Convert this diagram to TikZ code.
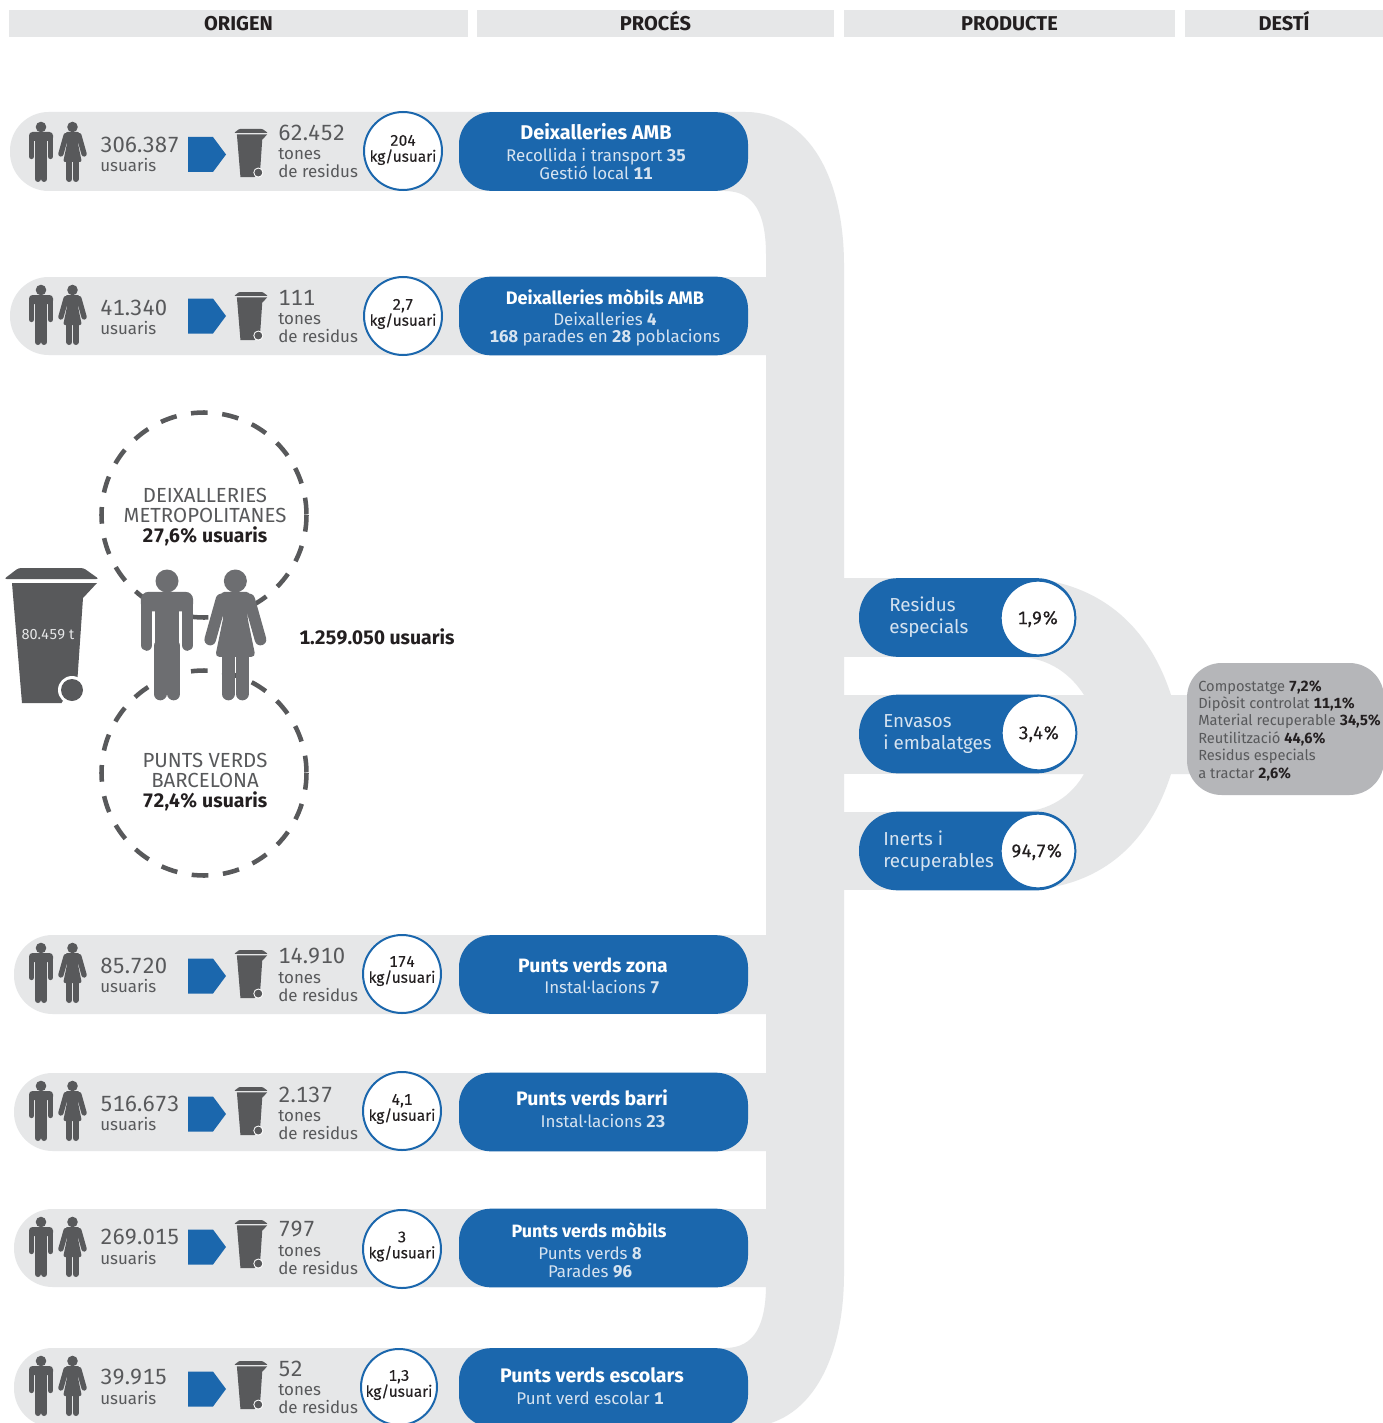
\documentclass[tikz,border=0pt]{standalone}
\usepackage{fontspec}
\setmainfont[Numbers={Lining,Monospaced}]{Fira Sans}
\newfontfamily\medf[FakeBold=0.25,Numbers={Lining,Monospaced}]{Fira Sans}
\definecolor{bandc}{HTML}{E6E7E8}
\definecolor{bluec}{HTML}{1B67AD}
\definecolor{darkc}{HTML}{58595B}
\definecolor{midc}{HTML}{6D6E71}
\definecolor{boxc}{HTML}{B5B6B9}
\definecolor{inkc}{HTML}{231F20}
\definecolor{softc}{HTML}{D6E3F0}
\newcommand{\fsz}[2]{\fontsize{#1pt}{#2pt}\selectfont}
\newcommand{\personicon}[4]{%
 \begin{scope}[shift={(#1,#2)},scale=#3,fill=#4,draw=#4,line cap=round]
  \fill (0,0) circle[radius=5.3];
  \fill[rounded corners={#3*2.6pt}] (-12,5) rectangle (12,14);
  \fill (-5.6,5) rectangle (5.6,34);
  \draw[line width={#3*4pt}] (-9.4,10) -- (-9.4,29.5);
  \draw[line width={#3*4pt}] (9.4,10) -- (9.4,29.5);
  \draw[line width={#3*4.5pt}] (-3.2,30) -- (-3.2,52);
  \draw[line width={#3*4.5pt}] (3.2,30) -- (3.2,52);
  \begin{scope}[shift={(31.5,0)}]
  \fill (0,0) circle[radius=5.3];
  \fill[rounded corners={#3*1.5pt}] (-7,5) -- (7,5) -- (5.4,16) -- (9.3,35) -- (-9.3,35) -- (-5.4,16) -- cycle;
  \draw[line width={#3*4.0pt}] (-6.4,8.5) -- (-11.6,27);
  \draw[line width={#3*4.0pt}] (6.4,8.5) -- (11.6,27);
  \draw[line width={#3*4.5pt}] (-3.2,33) -- (-3.2,52);
  \draw[line width={#3*4.5pt}] (3.2,33) -- (3.2,52);
  \end{scope}
 \end{scope}}
\newcommand{\binicon}[3]{%
 \begin{scope}[shift={(#1,#2)},scale=#3]
  \fill[darkc,rounded corners={#3*2pt}] (-47.5,11) -- (-33,0) -- (32,0) -- (47.5,11) -- cycle;
  \fill[darkc] (-39.5,15) -- (45.5,15) -- (31.5,30) -- (26,110) -- (10,135) -- (-29.5,135) -- cycle;
  \fill[white] (20.5,122) circle[radius=14];
  \fill[darkc] (20.5,122) circle[radius=11];
 \end{scope}}
\tikzset{
 x=0.75pt,y=-0.75pt,
 hdr/.style={fill=bandc,inner sep=0,minimum height=20.25pt,text height=10.5pt,text depth=0pt,text=inkc,font=\bfseries\fsz{15}{15}},
 pill/.style={fill=bluec,rounded corners=24pt,inner sep=0,minimum height=59pt,minimum width=216.75pt},
 ring/.style={circle,fill=white,draw=bluec,line width=1.5pt,inner sep=0},
 ttl/.style={inner sep=0,text=white,font=\bfseries\fsz{#1}{15}},
 subt/.style={inner sep=0,text=softc,align=center,font=\fsz{12.7}{13}},
 bigt/.style={inner sep=0,anchor=west,text=darkc,font=\fsz{16.5}{16}},
 smallt/.style={inner sep=0,anchor=west,text=darkc,align=left,font=\fsz{12.7}{13.5}},
 kgt/.style={inner sep=0,align=center,text=inkc,font=\medf\fsz{11.5}{12}},
 prodt/.style={inner sep=0,anchor=west,align=left,text=softc,font=\fsz{14.1}{16.5}},
 pctt/.style={inner sep=0,text=inkc,font=\medf\fsz{13.6}{14}},
 dashc/.style={draw=darkc,line width=3.4pt,dash pattern=on 12.5pt off 11pt},
 capt/.style={inner sep=0,align=center,text=darkc,font=\fsz{15.3}{15}},
}
\begin{document}
\begin{tikzpicture}
\clip (0,0) rectangle (1383,1423);
\fill[white] (0,0) rectangle (1383,1423);
% header bars
\node[hdr,minimum width=344.25pt] (hOrigen) at (238.5,24) {ORIGEN};
\node[hdr,minimum width=267.75pt] (hProces) at (655.5,24) {PROCÉS};
\node[hdr,minimum width=248.25pt] (hProducte) at (1009.5,24) {PRODUCTE};
\node[hdr,minimum width=148.5pt] (hDesti) at (1284,24) {DESTÍ};
% main spine
\fill[bandc] (745,112) .. controls (810,112) and (844,180) .. (844,265) -- (844,1274)
  .. controls (844,1359) and (810,1427) .. (745,1427) -- (725,1348)
  .. controls (755,1348) and (766,1324) .. (766,1284) -- (766,255)
  .. controls (766,215) and (755,191) .. (725,191) -- cycle;
% product flows
\fill[bandc] (840,578) rectangle (1010,657);
\fill[bandc] (840,695) rectangle (1010,774);
\fill[bandc] (840,812) rectangle (1010,890);
\fill[bandc] (1000,578) -- (1030,578) .. controls (1105,585) and (1150,630) .. (1171,695)
  -- (1190,695) -- (1190,774) -- (1171,774) .. controls (1150,840) and (1105,885) .. (1030,890)
  -- (1000,890) -- (1000,812) -- (1017,812) .. controls (1050,812) and (1072,795) .. (1084,774)
  -- (1000,774) -- (1000,695) -- (1084,695) .. controls (1072,676) and (1050,657) .. (1017,657)
  -- (1000,657) -- cycle;
% rows
\foreach \rid/\rL/\rT/\rB/\rR/\hy/\ny/\uy/\biny/\ay/\ty/\ly/\cxx/\cyy/\crad/\ky/\numv/\tonv/\kgv in {
 a/10/112/191/784/127/144/165/129/154.5/132/162/403/151/39/149/{306.387}/{62.452}/{204},
 b/10/277/355/820/290/307/328/292/316/297/327/403/316/39/313/{41.340}/{111}/{2,7},
 c/14/935/1014/820/948/965/986/950/976/956/986/402/974/39/970/{85.720}/{14.910}/{174},
 d/14/1073/1151/820/1086/1103/1124/1087/1114/1094/1124/402/1111/39/1108/{516.673}/{2.137}/{4,1},
 e/14/1209/1287/820/1222/1237/1258/1220/1247/1229/1259/402/1249/39/1245.5/{269.015}/{797}/{3},
 f/14/1348/1427/784/1361/1377/1398/1361/1389/1368/1398/399/1387/38/1384/{39.915}/{52}/{1,3}}{
 \fill[bandc,rounded corners=29pt] (\rL,\rT) rectangle (\rR,\rB);
 \personicon{41}{\hy}{1}{darkc}
 \node[bigt] (num\rid) at (100,\ny+0.5) {\numv};
 \node[smallt] (usr\rid) at (100,\uy) {usuaris};
 \fill[bluec] (188,\ay-17.5) -- (213,\ay-17.5) -- (226,\ay) -- (213,\ay+17.5) -- (188,\ay+17.5) -- cycle;
 \binicon{251}{\biny}{0.357}
 \node[bigt] (ton\rid) at (278,\ty+0.5) {\tonv};
 \node[smallt] (res\rid) at (278,\ly+1.5) {tones\\de residus};
 \node[ring,minimum size={(2*\crad)*0.75pt}] (circ\rid) at (\cxx,\cyy) {};
 \node[kgt] (kg\rid) at (\cxx,\ky+1) {\kgv\\kg/usuari};
}
% process pills
\node[pill] (p1) at (603.5,151.5) {};
\node[pill] (p2) at (603.5,316) {};
\node[pill] (p3) at (603.5,974.5) {};
\node[pill] (p4) at (603.5,1112) {};
\node[pill] (p5) at (603.5,1248) {};
\node[pill] (p6) at (603.5,1387.5) {};
\node[ttl=14.9] (t1) at (596,132) {Deixalleries AMB};
\node[subt] (s1) at (596,164) {Recollida i transport \textbf{35}\\Gestió local \textbf{11}};
\node[ttl=13.6] (t2) at (605,297) {Deixalleries mòbils AMB};
\node[subt] (s2) at (605,329) {Deixalleries \textbf{4}\\\textbf{168} parades en \textbf{28} poblacions};
\node[ttl=14.5] (t3) at (593,965) {Punts verds zona};
\node[subt] (s3) at (602,987) {Instal·lacions \textbf{7}};
\node[ttl=14.6] (t4) at (592,1098) {Punts verds barri};
\node[subt] (s4) at (603,1121) {Instal·lacions \textbf{23}};
\node[ttl=13.4] (t5) at (589,1230) {Punts verds mòbils};
\node[subt] (s5) at (590,1262.5) {Punts verds \textbf{8}\\Parades \textbf{96}};
\node[ttl=14.7] (t6) at (592,1375) {Punts verds escolars};
\node[subt] (s6) at (590,1398) {Punt verd escolar \textbf{1}};
% product pills
\node[pill,minimum width=162.75pt,rounded corners=29pt] (q1) at (967.5,617.5) {};
\node[pill,minimum width=162.75pt,rounded corners=29pt] (q2) at (967.5,734) {};
\node[pill,minimum width=162.75pt,rounded corners=29pt] (q3) at (967.5,851) {};
\node[ring,minimum size=56pt] (r1) at (1038,618) {};
\node[ring,minimum size=56pt] (r2) at (1039,733) {};
\node[ring,minimum size=56pt] (r3) at (1038,851) {};
\node[pctt] (v1) at (1038,619) {1,9\%};
\node[pctt] (v2) at (1039,734) {3,4\%};
\node[pctt] (v3) at (1037,852) {94,7\%};
\node[prodt] (n1) at (889,617) {Residus\\especials};
\node[prodt] (n2) at (883,734) {Envasos\\i embalatges};
\node[prodt] (n3) at (883,851) {Inerts i\\recuperables};
% destination box
\fill[boxc,rounded corners=26pt] (1187,663) rectangle (1384,795);
\node[inner sep=0,anchor=west,align=left,text=darkc,font=\fsz{11}{13.05}] (desti) at (1198,730.5)
 {Compostatge \textcolor{inkc}{\textbf{7,2\%}}\\Dipòsit controlat \textcolor{inkc}{\textbf{11,1\%}}\\Material recuperable \textcolor{inkc}{\textbf{34,5\%}}\\Reutilització \textcolor{inkc}{\textbf{44,6\%}}\\Residus especials\\a tractar \textcolor{inkc}{\textbf{2,6\%}}};
% dashed circles
\draw[dashc] (204,515) circle[radius=102.5];
\draw[dashc] (204,773) circle[radius=102.5];
\node[capt] (c1) at (205,517.5) {DEIXALLERIES\\METROPOLITANES\\\textcolor{inkc}{\bfseries\fsz{14.6}{15}27,6\% usuaris}};
\node[capt] (c2) at (205,782.5) {PUNTS VERDS\\BARCELONA\\\textcolor{inkc}{\bfseries\fsz{14.6}{15}72,4\% usuaris}};
% big icons
\personicon{167}{581}{2.17}{midc}
\binicon{51.5}{568}{1}
\node[inner sep=0,text=bandc,font=\fsz{10.8}{12}] (tot) at (48,635) {80.459 t};
\node[inner sep=0,anchor=west,text=inkc,font=\bfseries\fsz{14.6}{15}] (usr) at (299,637) {1.259.050 usuaris};
\end{tikzpicture}
\end{document}
